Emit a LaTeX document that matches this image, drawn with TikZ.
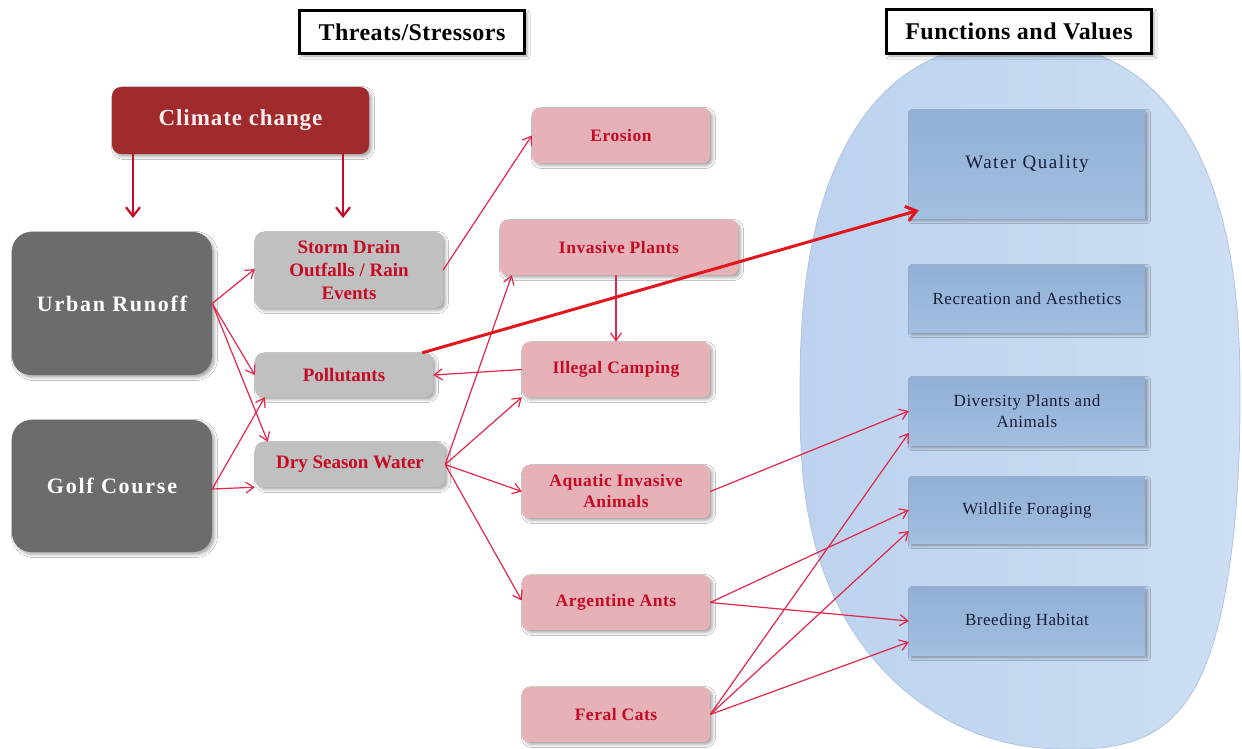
\documentclass[tikz,border=0pt]{standalone}
\usepackage{fontspec}
\setmainfont{Liberation Serif}
\usetikzlibrary{arrows.meta,shadows.blur}

\definecolor{ovalL}{RGB}{188,210,238}
\definecolor{ovalR}{RGB}{204,222,243}
\definecolor{ovalEdge}{RGB}{176,197,224}
\definecolor{darkgrey}{RGB}{108,108,108}
\definecolor{lightgrey}{RGB}{192,192,192}
\definecolor{brick}{RGB}{160,42,44}
\definecolor{rose}{RGB}{230,178,183}
\definecolor{steelT}{RGB}{146,176,214}
\definecolor{steelB}{RGB}{162,190,225}
\definecolor{crimson}{RGB}{198,10,38}
\definecolor{navytext}{RGB}{22,30,58}
\definecolor{linkred}{RGB}{226,38,76}
\definecolor{ccred}{RGB}{196,10,36}
\definecolor{boldred}{RGB}{228,22,28}

\tikzset{
  shade/.style={blur shadow={shadow xshift=2.5pt,shadow yshift=-2.5pt,shadow blur radius=3pt,shadow opacity=35}},
  titlebox/.style={draw=black,line width=3pt,fill=white,shade,inner sep=0pt,
    font=\fontsize{24}{28}\selectfont\bfseries\addfontfeature{LetterSpace=2}},
  sourcebox/.style={fill=darkgrey,rounded corners=19pt,shade,text=white,inner sep=0pt,align=center,
    font=\fontsize{22}{26}\selectfont\bfseries\addfontfeature{LetterSpace=8}},
  climatebox/.style={fill=brick,rounded corners=9pt,shade,text={rgb,255:red,250;green,238;blue,238},inner sep=0pt,
    font=\fontsize{23}{27}\selectfont\bfseries\addfontfeature{LetterSpace=4}},
  greybox/.style={fill=lightgrey,rounded corners=8pt,shade,text=crimson,inner sep=0pt,align=center,
    font=\fontsize{19}{22.7}\selectfont\bfseries},
  pinkbox/.style={fill=rose,rounded corners=7pt,shade,text=crimson,inner sep=0pt,align=center,
    font=\fontsize{17.5}{21}\selectfont\bfseries\addfontfeature{LetterSpace=3}},
  valuebox/.style={top color=steelT,bottom color=steelB,shade,text=navytext,inner sep=0pt,align=center,
    font=\fontsize{17}{21}\selectfont\addfontfeature{LetterSpace=3}},
  lnk/.style={draw=linkred,line width=1.2pt,-{Straight Barb[length=8pt,width=11pt]}},
  ccarrow/.style={draw=ccred,line width=2.2pt,-{Straight Barb[length=9pt,width=14pt]}},
  mainarrow/.style={draw=boldred,line width=3pt,-{Straight Barb[length=10pt,width=15pt]}},
}

\begin{document}
\begin{tikzpicture}[x=1pt,y=-1pt,
  declare function={
    ovx(\t)=cos(\t)*abs(cos(\t))^(-0.18);
    ovy(\t)=sin(\t)*abs(sin(\t))^(-0.18);
    ovk(\t)=max(0,ovy(\t));
  }]
\useasboundingbox (0,0) rectangle (1242,748);
\fill[white] (0,0) rectangle (1242,748);

% the oval that groups the functions and values: a superellipse whose lower end leans right
\path[left color=ovalL,right color=ovalR,draw=ovalEdge,line width=0.8pt]
  plot[domain=1:359,samples=180,variable=\t]
    ({1020+220*ovx(\t)+50*ovk(\t)*ovk(\t)*ovk(\t)},{396+353*ovy(\t)}) -- cycle;

% headings
\node[titlebox,minimum width=225pt,minimum height=43pt] (threats) at (412,32) {Threats/Stressors};
\node[titlebox,minimum width=265pt,minimum height=44pt] (functions) at (1019,31.5) {Functions and Values};

% drivers
\node[climatebox,minimum width=257pt,minimum height=67pt] (climate) at (240.5,120.5) {Climate change};
\node[sourcebox,minimum width=200pt,minimum height=143pt] (urban) at (112,303.5) {Urban Runoff};
\node[sourcebox,minimum width=200pt,minimum height=132pt] (golf) at (112,486) {Golf Course};

% intermediate stressors
\node[greybox,minimum width=188pt,minimum height=76pt] (storm) at (349,270) {Storm Drain\\Outfalls / Rain\\Events};
\node[greybox,minimum width=178pt,minimum height=44pt] (poll) at (344,375) {Pollutants};
\node[greybox,minimum width=190pt,minimum height=45pt] (dry) at (350,464.5) {Dry Season Water};

% threats
\node[pinkbox,minimum width=178pt,minimum height=55pt] (erosion) at (621,135.5) {Erosion};
\node[pinkbox,minimum width=238pt,minimum height=55pt] (invpl) at (619,247.5) {Invasive Plants};
\node[pinkbox,minimum width=188pt,minimum height=55pt] (camp) at (616,369.5) {Illegal Camping};
\node[pinkbox,minimum width=188pt,minimum height=53pt] (aqua) at (616,491.5) {Aquatic Invasive\\Animals};
\node[pinkbox,minimum width=188pt,minimum height=55pt] (ants) at (616,602.5) {Argentine Ants};
\node[pinkbox,minimum width=188pt,minimum height=55pt] (cats) at (616,714.5) {Feral Cats};

% functions and values
\node[valuebox,minimum width=236pt,minimum height=108pt,
      font=\fontsize{19}{23}\selectfont\addfontfeature{LetterSpace=8}] (wq) at (1027,164) {Water Quality};
\node[valuebox,minimum width=236pt,minimum height=67pt] (rec) at (1027,298.5) {Recreation and Aesthetics};
\node[valuebox,minimum width=236pt,minimum height=68pt] (div) at (1027,411) {Diversity Plants and\\Animals};
\node[valuebox,minimum width=236pt,minimum height=66pt] (wild) at (1027,510) {Wildlife Foraging};
\node[valuebox,minimum width=236pt,minimum height=68pt] (breed) at (1027,621) {Breeding Habitat};

% climate change drops
\coordinate (ccA) at (133,218);
\coordinate (ccB) at (343,218);
\draw[ccarrow] (climate.south -| ccA) -- (ccA);
\draw[ccarrow] (climate.south -| ccB) -- (ccB);

% sources to stressors
\draw[lnk] (urban.east) -- ([yshift=1pt]storm.west);
\draw[lnk] (urban.east) -- (poll.west);
\draw[lnk] (urban.east) -- ([xshift=13pt]dry.north west);
\draw[lnk] ([yshift=-3pt]golf.east) -- ([xshift=10pt]poll.south west);
\draw[lnk] ([yshift=-3pt]golf.east) -- (dry.south west);

% stressors to threats
\draw[lnk] (storm.east) -- (erosion.west);
\draw[lnk] (dry.east) -- ([xshift=12pt]invpl.south west);
\draw[lnk] (dry.east) -- (camp.south west);
\draw[lnk] (dry.east) -- (aqua.west);
\draw[lnk] (dry.east) -- ([yshift=2pt]ants.west);
\draw[lnk] (camp.west) -- (poll.east);
\draw[lnk] (camp.north |- invpl.south) -- (camp.north);

% threats to functions and values
\draw[mainarrow] ([xshift=-11pt]poll.north east) -- ([xshift=10pt,yshift=8pt]wq.south west);
\draw[lnk] (aqua.east) -- (div.west);
\draw[lnk] (ants.east) -- (wild.west);
\draw[lnk] (ants.east) -- (breed.west);
\draw[lnk] (cats.east) -- ([yshift=-22pt]div.west);
\draw[lnk] (cats.east) -- ([yshift=-21pt]wild.west);
\draw[lnk] (cats.east) -- ([yshift=-21pt]breed.west);
\end{tikzpicture}
\end{document}
